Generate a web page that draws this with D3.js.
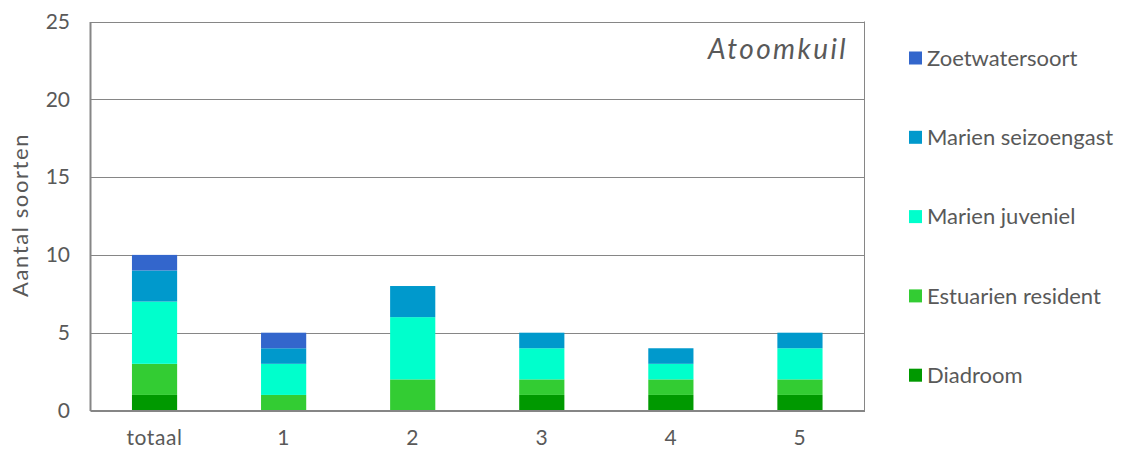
<!DOCTYPE html>
<html>
<head>
<meta charset="utf-8">
<script src="https://cdn.jsdelivr.net/npm/d3@7/dist/d3.min.js"></script>
<style>
  html, body { margin: 0; padding: 0; background: #ffffff; }
  svg { display: block; }
  text { font-family: Lato, "Liberation Sans", sans-serif; fill: #595959; }
</style>
</head>
<body>
<svg id="chart" width="1122" height="453"></svg>
<script>
// Categories on the x axis
const categories = ["totaal", "1", "2", "3", "4", "5"];

// Species groups, bottom of the stack first
const seriesNames = ["Diadroom", "Estuarien resident", "Marien juveniel", "Marien seizoengast", "Zoetwatersoort"];
const seriesColors = ["#009900", "#33cc33", "#00ffcc", "#0099cc", "#3366cc"];

// Number of species per group and category
const diadroom          = [1, 0, 0, 1, 1, 1];
const estuarienResident = [2, 1, 2, 1, 1, 1];
const marienJuveniel    = [4, 2, 4, 2, 1, 2];
const marienSeizoengast = [2, 1, 2, 1, 1, 1];
const zoetwatersoort    = [1, 1, 0, 0, 0, 0];

const yTicks = [0, 5, 10, 15, 20, 25];
const chartTitle = "Atoomkuil";
const yTitle = "Aantal soorten";

const seriesValues = [diadroom, estuarienResident, marienJuveniel, marienSeizoengast, zoetwatersoort];
const rows = categories.map((c, i) => {
  const r = { cat: c };
  seriesNames.forEach((s, k) => { r[s] = seriesValues[k][i]; });
  return r;
});

const svg = d3.select("#chart");
const plot = { left: 90, right: 864.5, top: 21.5, bottom: 410.5 };

const x = d3.scaleBand().domain(categories).range([plot.left, plot.right]).paddingInner(0.65).paddingOuter(0.325);
const y = d3.scaleLinear().domain([0, 25]).range([plot.bottom, plot.top]);

const stack = d3.stack().keys(seriesNames)(rows);
const color = d3.scaleOrdinal().domain(seriesNames).range(seriesColors);

// Gridlines
svg.append("g").selectAll("line").data(yTicks.filter(t => t > 0)).join("line")
  .attr("x1", plot.left).attr("x2", plot.right)
  .attr("y1", d => Math.round(y(d)) + 0.5).attr("y2", d => Math.round(y(d)) + 0.5)
  .attr("stroke", "#868686").attr("stroke-width", 1);

// Right frame edge
svg.append("line")
  .attr("x1", plot.right).attr("x2", plot.right)
  .attr("y1", plot.top).attr("y2", plot.bottom)
  .attr("stroke", "#868686").attr("stroke-width", 1);

// Stacked bars
svg.append("g").selectAll("g").data(stack).join("g")
  .attr("fill", d => color(d.key))
  .selectAll("rect").data(d => d).join("rect")
  .attr("x", d => x(d.data.cat))
  .attr("width", x.bandwidth())
  .attr("y", d => y(d[1]))
  .attr("height", d => y(d[0]) - y(d[1]));

// Y axis
const yAxis = svg.append("g").attr("transform", `translate(${plot.left},0)`)
  .call(d3.axisLeft(y).tickValues(yTicks).tickSize(0).tickPadding(20));
yAxis.select(".domain").attr("stroke", "#868686").attr("stroke-width", 2);
yAxis.selectAll("text").style("font-size", "21px").attr("fill", "#595959")
  .style("font-family", "Lato, sans-serif");

// X axis
const xAxis = svg.append("g").attr("transform", `translate(0,${plot.bottom})`)
  .call(d3.axisBottom(x).tickSize(0).tickPadding(20));
xAxis.select(".domain").attr("stroke", "#868686").attr("stroke-width", 2);
xAxis.selectAll("text").style("font-size", "21px").style("letter-spacing", "0.6px")
  .attr("fill", "#595959").style("font-family", "Lato, sans-serif");

// Y axis title
svg.append("text")
  .attr("transform", "translate(28,215) rotate(-90)")
  .attr("text-anchor", "middle")
  .style("font-size", "22px").style("letter-spacing", "1.6px")
  .text(yTitle);

// Chart title
svg.append("text")
  .attr("x", 848).attr("y", 59)
  .attr("text-anchor", "end")
  .style("font-size", "28px").style("font-style", "italic").style("letter-spacing", "2.4px")
  .text(chartTitle);

// Legend, top entry is the top of the stack
const legendItems = seriesNames.slice().reverse();
const legend = svg.append("g").selectAll("g").data(legendItems).join("g")
  .attr("transform", (d, i) => `translate(909,${58 + i * 79.3})`);
legend.append("rect").attr("x", 0).attr("y", -6.5).attr("width", 13).attr("height", 13)
  .attr("fill", d => color(d));
legend.append("text").attr("x", 18).attr("y", 0).attr("dy", "0.35em")
  .style("font-size", "22px").text(d => d);
</script>
</body>
</html>
